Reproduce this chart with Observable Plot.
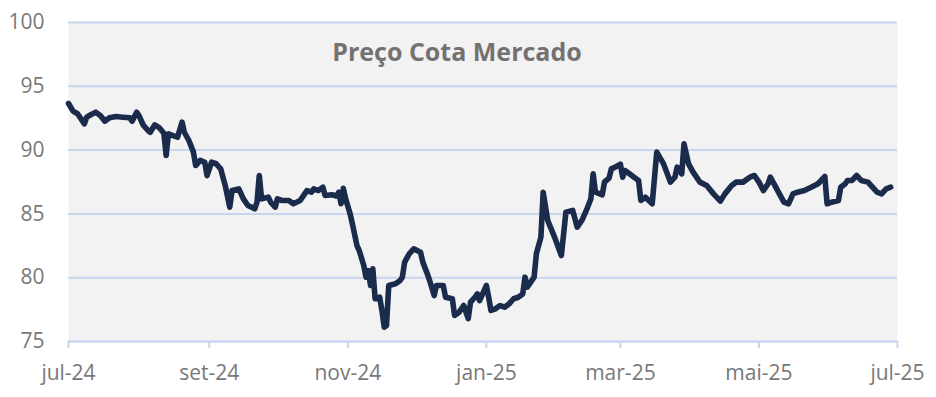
<!DOCTYPE html>
<html><head><meta charset="utf-8">
<script src="https://cdn.jsdelivr.net/npm/d3@7"></script>
<script src="https://cdn.jsdelivr.net/npm/@observablehq/plot@0.6"></script>
<style>html,body{margin:0;padding:0;background:#fff;} svg{display:block}</style>
</head><body><div id="chart"></div>
<script>
const title = "Preço Cota Mercado";
const dates = [
"2024-07-01","2024-07-03","2024-07-05","2024-07-08","2024-07-09","2024-07-11","2024-07-13","2024-07-15","2024-07-17","2024-07-19",
"2024-07-22","2024-07-25","2024-07-28","2024-07-29","2024-07-31","2024-08-01","2024-08-03","2024-08-05","2024-08-06","2024-08-08",
"2024-08-10","2024-08-12","2024-08-13","2024-08-14","2024-08-16","2024-08-18","2024-08-20","2024-08-21","2024-08-23","2024-08-25",
"2024-08-26","2024-08-28","2024-08-30","2024-08-31","2024-09-02","2024-09-04","2024-09-06","2024-09-08","2024-09-10","2024-09-11",
"2024-09-14","2024-09-16","2024-09-18","2024-09-21","2024-09-22","2024-09-23","2024-09-24","2024-09-27","2024-09-28","2024-09-30",
"2024-10-01","2024-10-03","2024-10-06","2024-10-08","2024-10-11","2024-10-13","2024-10-14","2024-10-16","2024-10-17","2024-10-19",
"2024-10-21","2024-10-22","2024-10-25","2024-10-27","2024-10-28","2024-10-29","2024-10-30","2024-10-31","2024-11-02","2024-11-03",
"2024-11-05","2024-11-06","2024-11-08","2024-11-09","2024-11-10","2024-11-11","2024-11-12","2024-11-13","2024-11-15","2024-11-16",
"2024-11-17","2024-11-18","2024-11-19","2024-11-22","2024-11-24","2024-11-25","2024-11-26","2024-11-28","2024-11-30","2024-12-03",
"2024-12-04","2024-12-06","2024-12-07","2024-12-09","2024-12-10","2024-12-13","2024-12-14","2024-12-17","2024-12-18","2024-12-20",
"2024-12-22","2024-12-24","2024-12-25","2024-12-27","2024-12-28","2024-12-29","2025-01-01","2025-01-02","2025-01-03","2025-01-05",
"2025-01-07","2025-01-09","2025-01-11","2025-01-13","2025-01-15","2025-01-17","2025-01-18","2025-01-19","2025-01-22","2025-01-23",
"2025-01-25","2025-01-26","2025-01-28","2025-01-31","2025-02-03","2025-02-05","2025-02-08","2025-02-10","2025-02-12","2025-02-14",
"2025-02-16","2025-02-17","2025-02-18","2025-02-21","2025-02-22","2025-02-24","2025-02-25","2025-02-27","2025-03-01","2025-03-02",
"2025-03-03","2025-03-05","2025-03-07","2025-03-09","2025-03-10","2025-03-12","2025-03-15","2025-03-17","2025-03-20","2025-03-23",
"2025-03-25","2025-03-26","2025-03-28","2025-03-29","2025-03-31","2025-04-02","2025-04-05","2025-04-08","2025-04-11","2025-04-14",
"2025-04-16","2025-04-19","2025-04-21","2025-04-24","2025-04-27","2025-04-29","2025-05-01","2025-05-03","2025-05-05","2025-05-06",
"2025-05-08","2025-05-10","2025-05-12","2025-05-14","2025-05-16","2025-05-18","2025-05-21","2025-05-24","2025-05-27","2025-05-30",
"2025-05-31","2025-06-02","2025-06-05","2025-06-06","2025-06-08","2025-06-09","2025-06-11","2025-06-13","2025-06-15","2025-06-18",
"2025-06-20","2025-06-22","2025-06-24","2025-06-26","2025-06-28"
];
const prices = [
93.65,93.05,92.85,92.06,92.58,92.79,92.97,92.71,92.27,92.53,
92.63,92.58,92.53,92.27,92.97,92.71,91.93,91.54,91.40,91.98,
91.75,91.32,89.58,91.28,91.14,91.01,92.19,91.40,90.75,89.84,
88.79,89.20,89.05,88.00,89.05,88.93,88.53,87.23,85.53,86.83,
86.96,86.18,85.66,85.40,85.92,88.01,86.18,86.31,85.92,85.53,
86.18,86.05,86.05,85.79,86.05,86.57,86.83,86.70,86.96,86.83,
87.09,86.44,86.50,86.40,86.70,85.80,87.00,86.20,85.00,84.22,
82.52,82.13,80.96,80.04,80.56,79.39,80.69,78.35,78.47,77.43,
76.12,76.25,79.39,79.52,79.78,80.04,81.22,81.87,82.26,82.00,
81.22,80.30,79.78,78.60,79.39,79.39,78.47,78.35,77.04,77.30,
77.82,76.80,78.08,78.47,78.73,78.21,79.39,78.47,77.43,77.56,
77.82,77.69,77.95,78.35,78.47,78.73,80.04,79.26,80.04,81.87,
83.18,86.70,84.48,83.18,81.74,85.14,85.27,83.96,84.48,85.27,
86.18,88.14,86.70,86.50,87.50,87.80,88.53,88.70,88.90,87.88,
88.40,88.14,87.88,87.62,86.05,86.31,85.79,89.84,88.92,87.49,
87.88,88.66,88.14,90.49,88.92,88.27,87.49,87.23,86.57,86.00,
86.57,87.23,87.49,87.49,87.88,88.01,87.49,86.83,87.36,87.88,
87.23,86.57,85.92,85.79,86.57,86.70,86.83,87.09,87.36,87.93,
85.79,85.92,86.05,87.09,87.36,87.62,87.62,88.01,87.62,87.49,
87.09,86.70,86.57,86.96,87.09
];
const yTicks = [75, 80, 85, 90, 95, 100];
const xTickDates = ["2024-07-01","2024-09-01","2024-11-01","2025-01-01","2025-03-01","2025-05-01","2025-07-01"];
const xTickLabels = ["jul-24","set-24","nov-24","jan-25","mar-25","mai-25","jul-25"];

const parse = s => new Date(s + "T00:00:00Z");
const data = dates.map((d, i) => ({date: parse(d), price: prices[i]}));
const xTicks = xTickDates.map(parse);
const labelOf = new Map(xTicks.map((d, i) => [+d, xTickLabels[i]]));

const gridColor = "#c8d5ee";
const textColor = "#787878";

const chart = Plot.plot({
  width: 936, height: 397,
  marginLeft: 68, marginRight: 39, marginTop: 22, marginBottom: 56,
  style: {fontFamily: "'Open Sans', sans-serif", background: "#fff"},
  x: {type: "utc", domain: [xTicks[0], xTicks[xTicks.length - 1]]},
  y: {domain: [75, 100]},
  marks: [
    Plot.frame({fill: "#f2f2f2", stroke: null}),
    Plot.gridY(yTicks, {stroke: gridColor, strokeOpacity: 1, strokeWidth: 2}),
    Plot.axisY(yTicks, {tickSize: 0, tickPadding: 24, fontSize: 21, fill: textColor, label: null}),
    Plot.axisX(xTicks, {tickSize: 7, stroke: gridColor, strokeWidth: 2, strokeOpacity: 1, fill: textColor, fontSize: 21, tickPadding: 17, tickFormat: d => labelOf.get(+d), label: null}),
    Plot.ruleY([75], {stroke: gridColor, strokeWidth: 2}),
    Plot.lineY(data, {x: "date", y: "price", stroke: "#1b2b4c", strokeWidth: 5.6, strokeLinejoin: "round", strokeLinecap: "round"}),
    Plot.text([title], {frameAnchor: "top", lineAnchor: "top", dx: -26, dy: 21, fontSize: 25, fontWeight: "bold", fill: "#767171"})
  ]
});
document.getElementById("chart").appendChild(chart);
</script>
</body></html>
